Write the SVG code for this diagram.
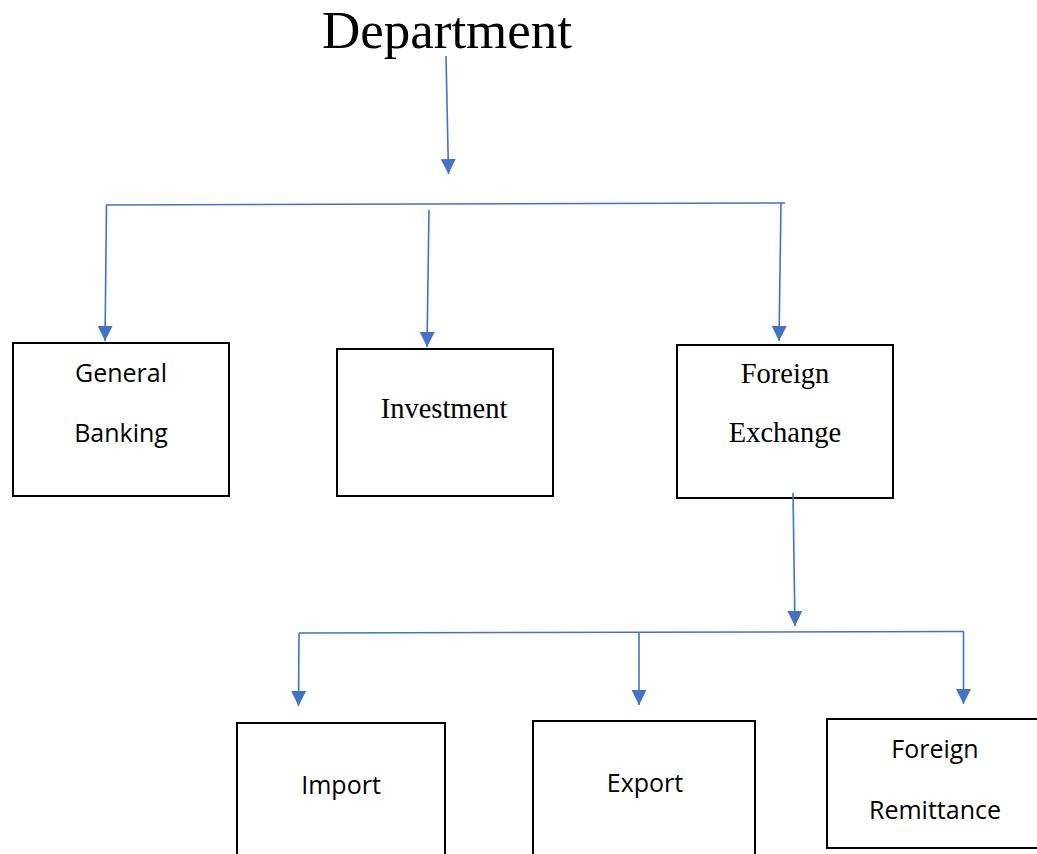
<svg xmlns="http://www.w3.org/2000/svg" width="1037" height="854" viewBox="0 0 1037 854">
  <style>
    .box { fill: #ffffff; stroke: #000000; stroke-width: 2; }
    .conn { fill: none; stroke: #4472C4; stroke-width: 1.6; }
    .serif { font-family: "Liberation Serif", "Times New Roman", serif; fill: #000000; text-anchor: middle; }
    .sans { font-family: "Open Sans", "Liberation Sans", sans-serif; font-size: 25px; fill: #000000; text-anchor: middle; }
    .s28 { font-size: 28.5px; }
  </style>
  <defs>
    <marker id="arrow" markerUnits="userSpaceOnUse" markerWidth="16" markerHeight="16" refX="15" refY="7.5" orient="auto">
      <path d="M0,0 L15,7.5 L0,15 Z" fill="#4472C4"/>
    </marker>
  </defs>
  <rect width="1037" height="854" fill="#ffffff"/>

  <g id="department">
    <text class="serif" x="447" y="48" font-size="53">Department</text>
  </g>

  <g id="general-banking">
    <rect class="box" x="13" y="343" width="216" height="153"/>
    <text class="sans" x="121" y="382">General</text>
    <text class="sans" x="121" y="442">Banking</text>
  </g>

  <g id="investment">
    <rect class="box" x="337" y="349" width="216" height="147"/>
    <text class="serif s28" x="444" y="418">Investment</text>
  </g>

  <g id="foreign-exchange">
    <rect class="box" x="677" y="345" width="216" height="153"/>
    <text class="serif s28" x="785" y="383">Foreign</text>
    <text class="serif s28" x="785" y="442">Exchange</text>
  </g>

  <g id="import">
    <rect class="box" x="237" y="723" width="208" height="140"/>
    <text class="sans" x="341" y="794">Import</text>
  </g>

  <g id="export">
    <rect class="box" x="533" y="721" width="222" height="140"/>
    <text class="sans" x="645" y="792">Export</text>
  </g>

  <g id="foreign-remittance">
    <rect class="box" x="827" y="719" width="220" height="129"/>
    <text class="sans" x="935" y="758">Foreign</text>
    <text class="sans" x="935" y="819">Remittance</text>
  </g>

  <g id="connectors">
    <line class="conn" x1="446" y1="56" x2="448.5" y2="174" marker-end="url(#arrow)"/>
    <line class="conn" x1="106" y1="205" x2="785" y2="203"/>
    <line class="conn" x1="106.5" y1="205" x2="105" y2="341" marker-end="url(#arrow)"/>
    <line class="conn" x1="429" y1="210" x2="427" y2="347" marker-end="url(#arrow)"/>
    <line class="conn" x1="781" y1="203" x2="779" y2="341" marker-end="url(#arrow)"/>
    <line class="conn" x1="793" y1="493" x2="795" y2="626" marker-end="url(#arrow)"/>
    <line class="conn" x1="299" y1="633" x2="964" y2="631.5"/>
    <line class="conn" x1="299" y1="633" x2="298.5" y2="706" marker-end="url(#arrow)"/>
    <line class="conn" x1="639" y1="632.5" x2="639" y2="705" marker-end="url(#arrow)"/>
    <line class="conn" x1="963.5" y1="631.5" x2="963.5" y2="704" marker-end="url(#arrow)"/>
  </g>
</svg>
